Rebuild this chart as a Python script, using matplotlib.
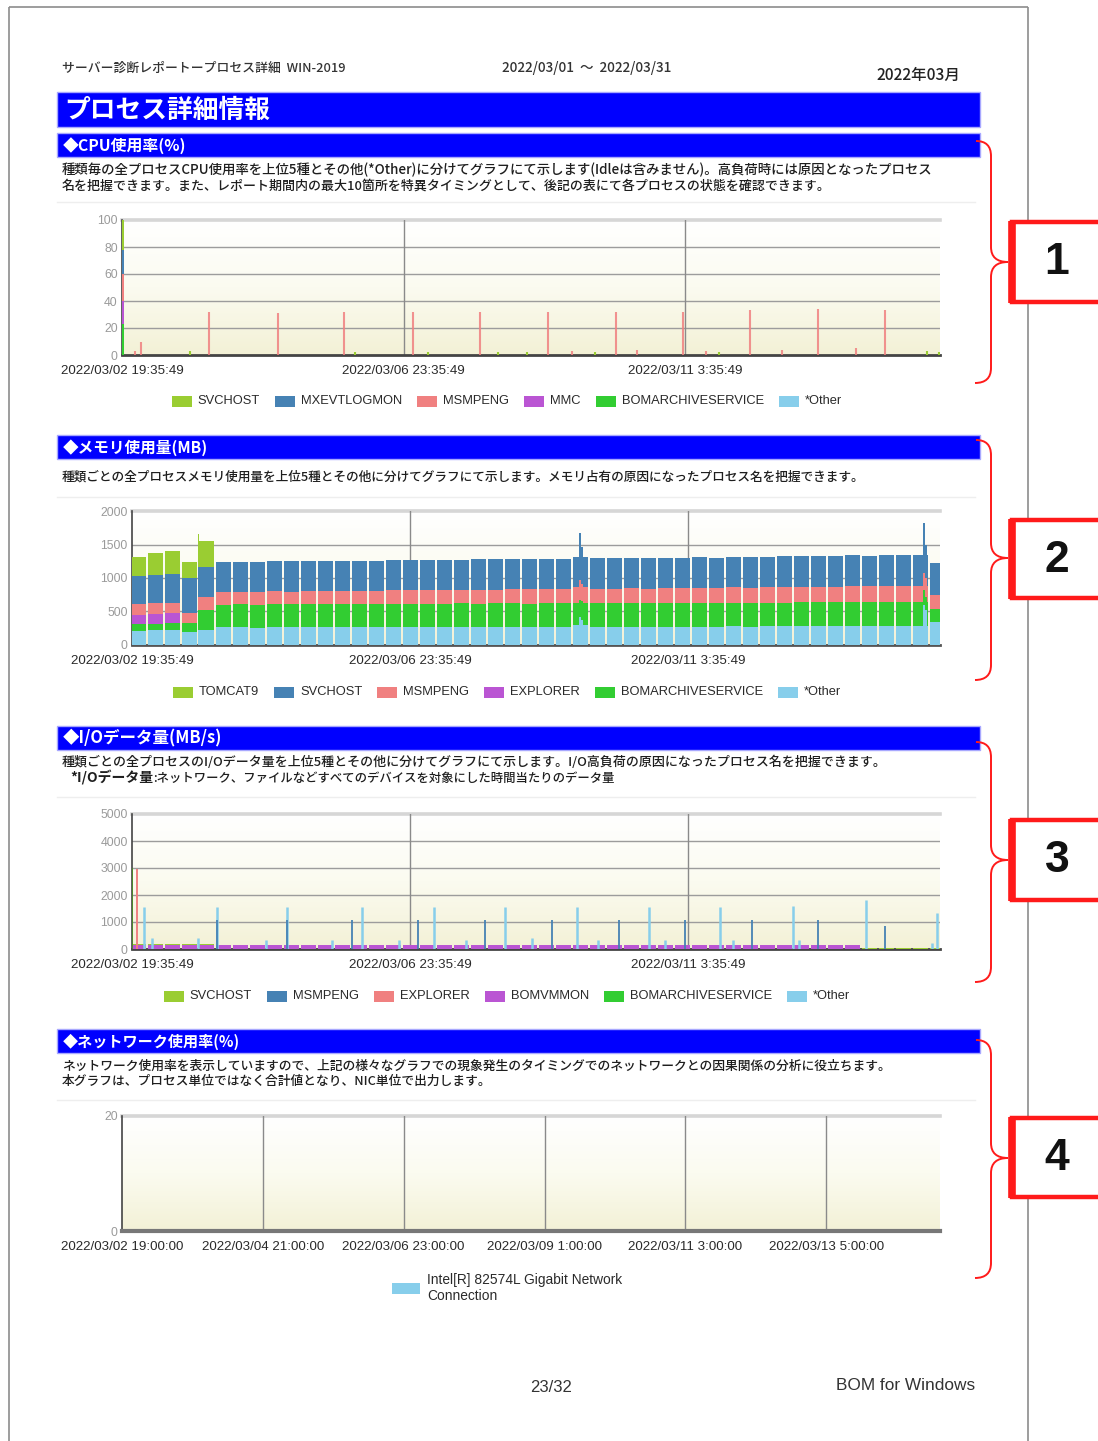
import numpy as np
import matplotlib
matplotlib.use("Agg")
import matplotlib.pyplot as plt
from matplotlib.patches import Rectangle, PathPatch
from matplotlib.path import Path
from matplotlib.colors import LinearSegmentedColormap

W, H = 1098, 1441
JP = ["Noto Sans CJK JP", "DejaVu Sans"]
LAT = ["Liberation Sans", "DejaVu Sans"]

# ---------------- page texts ----------------
header_left = "サーバー診断レポートープロセス詳細  WIN-2019"
header_period = "2022/03/01  ～  2022/03/31"
header_month = "2022年03月"
page_title = "プロセス詳細情報"
section_titles = ["◆CPU使用率(%)", "◆メモリ使用量(MB)", "◆I/Oデータ量(MB/s)", "◆ネットワーク使用率(%)"]
cpu_desc = ["種類毎の全プロセスCPU使用率を上位5種とその他(*Other)に分けてグラフにて示します(Idleは含みません)。高負荷時には原因となったプロセス",
            "名を把握できます。また、レポート期間内の最大10箇所を特異タイミングとして、後記の表にて各プロセスの状態を確認できます。"]
mem_desc = ["種類ごとの全プロセスメモリ使用量を上位5種とその他に分けてグラフにて示します。メモリ占有の原因になったプロセス名を把握できます。"]
io_desc = ["種類ごとの全プロセスのI/Oデータ量を上位5種とその他に分けてグラフにて示します。I/O高負荷の原因になったプロセス名を把握できます。",
           "*I/Oデータ量", ":ネットワーク、ファイルなどすべてのデバイスを対象にした時間当たりのデータ量"]
net_desc = ["ネットワーク使用率を表示していますので、上記の様々なグラフでの現象発生のタイミングでのネットワークとの因果関係の分析に役立ちます。",
            "本グラフは、プロセス単位ではなく合計値となり、NIC単位で出力します。"]
footer_page = "23/32"
footer_brand = "BOM for Windows"
callout_numbers = ["1", "2", "3", "4"]

# ---------------- time axes (hours from start) ----------------
span_hours = 290.4
proc_tick_hours = [0, 100, 200]
proc_tick_labels = ["2022/03/02 19:35:49", "2022/03/06 23:35:49", "2022/03/11 3:35:49"]
net_tick_hours = [0, 50, 100, 150, 200, 250]
net_tick_labels = ["2022/03/02 19:00:00", "2022/03/04 21:00:00", "2022/03/06 23:00:00",
                   "2022/03/09 1:00:00", "2022/03/11 3:00:00", "2022/03/13 5:00:00"]

# ---------------- CPU (%) ----------------
cpu_legend = ["SVCHOST", "MXEVTLOGMON", "MSMPENG", "MMC", "BOMARCHIVESERVICE", "*Other"]
cpu_start_bomarch = 23
cpu_start_mmc = 17
cpu_start_msmpeng = 20
cpu_start_mxevtlogmon = 18
cpu_start_svchost = 22
cpu_msmpeng_hours = [4.6, 6.8, 31.0, 55.4, 78.9, 103.4, 127.2, 151.4, 159.7, 175.2, 183.0,
                     199.3, 207.5, 222.9, 234.4, 247.1, 260.5, 270.9]
cpu_msmpeng_vals = [3, 10, 32, 31, 32, 32, 32, 32, 3, 32, 4, 32, 3, 33, 4, 34, 5, 33]
cpu_svchost_hours = [24.0, 82.8, 108.8, 133.6, 143.7, 168.0, 212.0, 285.8, 289.9]
cpu_svchost_vals = [3, 2, 2, 2, 2, 2, 2, 3, 2]

# ---------------- Memory (MB) : sample blocks separated by data gaps ----------------
mem_legend = ["TOMCAT9", "SVCHOST", "MSMPENG", "EXPLORER", "BOMARCHIVESERVICE", "*Other"]
mem_gap_hours = [5.3, 11.4, 17.5, 23.6, 29.7, 35.9, 42.0, 48.1, 54.2, 60.3,
                 66.4, 72.5, 78.6, 84.7, 90.8, 96.9, 103.1, 109.2, 115.3, 121.4,
                 127.5, 133.6, 139.7, 145.8, 151.9, 158.0, 164.2, 170.3, 176.4, 182.5,
                 188.6, 194.7, 200.8, 206.9, 213.0, 219.1, 225.3, 231.4, 237.5, 243.6,
                 249.7, 255.8, 261.9, 268.0, 274.1, 280.2, 286.3]
mem_tomcat = [290, 340, 355, 250, 375, 0, 0, 0, 0, 0,
              0, 0, 0, 0, 0, 0, 0, 0, 0, 0,
              0, 0, 0, 0, 0, 0, 0, 0, 0, 0,
              0, 0, 0, 0, 0, 0, 0, 0, 0, 0,
              0, 0, 0, 0, 0, 0, 0, 0]
mem_svchost = [420, 420, 430, 520, 450, 450, 445, 440, 448, 452,
               445, 450, 455, 448, 452, 455, 450, 452, 455, 450,
               455, 452, 450, 455, 452, 450, 460, 455, 450, 452,
               455, 450, 452, 455, 450, 452, 455, 450, 452, 455,
               450, 452, 455, 450, 452, 455, 455, 480]
mem_msmpeng = [160, 150, 150, 150, 195, 185, 188, 190, 186, 190,
               192, 190, 195, 193, 198, 200, 198, 202, 205, 203,
               208, 206, 210, 212, 215, 214, 230, 218, 220, 222,
               220, 224, 226, 225, 228, 230, 228, 232, 235, 233,
               236, 238, 240, 238, 242, 240, 242, 200]
mem_explorer = [140, 150, 150, 0, 0, 0, 0, 0, 0, 0,
                0, 0, 0, 0, 0, 0, 0, 0, 0, 0,
                0, 0, 0, 0, 0, 0, 0, 0, 0, 0,
                0, 0, 0, 0, 0, 0, 0, 0, 0, 0,
                0, 0, 0, 0, 0, 0, 0, 0]
mem_bomarch = [95, 100, 100, 125, 300, 340, 345, 342, 348, 345,
               350, 346, 348, 352, 348, 350, 352, 348, 350, 352,
               350, 348, 352, 350, 348, 350, 330, 350, 352, 348,
               350, 352, 350, 354, 352, 355, 352, 356, 354, 358,
               355, 357, 360, 358, 362, 360, 358, 200]
mem_other = [215, 220, 225, 200, 225, 262, 264, 260, 265, 262,
             266, 264, 262, 265, 263, 266, 264, 268, 265, 270,
             268, 272, 270, 268, 272, 270, 300, 272, 270, 274,
             272, 275, 273, 276, 274, 278, 276, 278, 280, 277,
             280, 278, 282, 280, 283, 282, 285, 340]
mem_spike_hours = [23.9, 161.0, 161.8, 284.7, 285.3]
mem_spike_tomcat = [480, 0, 0, 0, 0]
mem_spike_svchost = [450, 700, 560, 740, 500]
mem_spike_msmpeng = [195, 300, 250, 260, 280]
mem_spike_explorer = [0, 0, 0, 0, 0]
mem_spike_bomarch = [300, 250, 280, 220, 200]
mem_spike_other = [225, 420, 380, 600, 520]

# ---------------- I/O (MB/s) ----------------
io_legend = ["SVCHOST", "MSMPENG", "EXPLORER", "BOMVMMON", "BOMARCHIVESERVICE", "*Other"]
io_bomvmmon = [150, 150, 140, 140, 140, 130, 130, 130, 130, 130,
               130, 130, 130, 130, 130, 130, 130, 130, 130, 130,
               130, 130, 130, 130, 130, 130, 130, 130, 130, 130,
               130, 130, 130, 130, 130, 130, 130, 130, 130, 130,
               130, 130, 130, 0, 0, 0, 0, 0]
io_svchost_base = [35, 35, 35, 35, 35, 35, 35, 35, 35, 35,
                   35, 35, 35, 35, 35, 35, 35, 35, 35, 35,
                   35, 35, 35, 35, 35, 35, 35, 35, 35, 35,
                   35, 35, 35, 35, 35, 35, 35, 35, 35, 35,
                   35, 35, 35, 35, 35, 35, 35, 35]
io_svchost_start = 3000
io_explorer_hours = [1.9]
io_explorer_vals = [2950]
io_other_hours = [4.3, 7.1, 23.8, 30.6, 48.1, 55.7, 72.0, 82.7, 95.9, 108.4, 119.9, 133.9,
                  143.8, 160.0, 167.6, 185.7, 191.6, 211.4, 215.9, 237.4, 239.8, 263.7, 287.7, 289.5]
io_other_vals = [1540, 410, 400, 1540, 350, 1540, 350, 1540, 350, 1540, 350, 1540,
                 400, 1540, 350, 1540, 350, 1540, 350, 1600, 350, 1820, 230, 1330]
io_msmpeng_hours = [30.6, 55.7, 79.1, 102.8, 126.8, 150.9, 174.9, 198.8, 222.8, 246.7, 270.6]
io_msmpeng_vals = [1080, 1080, 1080, 1080, 1080, 1080, 1080, 1080, 1080, 1080, 860]

# ---------------- Network (%) ----------------
net_legend = ["Intel[R] 82574L Gigabit Network\nConnection"]

# ---------------- styles ----------------
C_LIME, C_STEEL, C_SALMON = "#9acd32", "#4682b4", "#f08080"
C_PURPLE, C_GREEN, C_SKY = "#ba55d3", "#32cd32", "#87ceeb"
PALETTE = [C_LIME, C_STEEL, C_SALMON, C_PURPLE, C_GREEN, C_SKY]
BLUE = "#0000ff"
RED = "#ff1a1a"
TXT = "#1e1e1e"

fig = plt.figure(figsize=(W / 100, H / 100), dpi=100)
fig.patch.set_facecolor("white")
R = fig.canvas.get_renderer()


def fx(x):
    return x / W


def fy(y):
    return 1 - y / H


bg = fig.add_axes([0, 0, 1, 1])
bg.set_xlim(0, W); bg.set_ylim(H, 0); bg.axis("off"); bg.set_zorder(0)
fg = fig.add_axes([0, 0, 1, 1])
fg.set_xlim(0, W); fg.set_ylim(H, 0); fg.axis("off"); fg.set_zorder(30)


def put(x, y, s, size, family=JP, width=None, ha="left", va="center", **kw):
    t = fig.text(fx(x), fy(y), s, fontsize=size, family=family, ha=ha, va=va, **kw)
    if width:
        w = t.get_window_extent(R).width
        if w > 0:
            t.set_fontsize(size * width / w)
    return t


# page border
for xs, ys in [([8.5, 8.5], [6.5, H]), ([8.5, 1027.5], [6.5, 6.5]), ([1027.5, 1027.5], [6.5, H])]:
    bg.plot(xs, ys, color="#8c8c8c", lw=1.2, solid_capstyle="butt")

# header
put(62, 68, header_left, 8, width=283, color="#333333", weight="medium")
put(502, 68, header_period, 8, width=169, color="#333333", weight="medium")
put(876, 75, header_month, 10, width=84, color="#222222", weight="medium")

# title bar
bg.add_patch(Rectangle((57, 92), 923, 35, fc=BLUE, ec="#a8a8ff", lw=1))
put(64, 110, page_title, 18, width=206, color="white", weight="bold")

# section bars
sec_bars = [133, 435, 726, 1029]
sec_widths = [124, 146, 160, 178]
for yb, title, tw in zip(sec_bars, section_titles, sec_widths):
    bg.add_patch(Rectangle((57, yb), 923, 24, fc=BLUE, ec="#a8a8ff", lw=1))
    put(63, yb + 12.5, title, 10.5, width=tw, color="white", weight="bold")

# descriptions
put(62, 170, cpu_desc[0], 9, width=873, color=TXT, weight="medium")
put(62, 186, cpu_desc[1], 9, width=767, color=TXT, weight="medium")
put(62, 477, mem_desc[0], 9, width=806, color=TXT, weight="medium")
put(62, 762, io_desc[0], 9, width=823, color=TXT, weight="medium")
tb = put(70, 778, io_desc[1], 9, width=83, color=TXT, weight="bold")
bx = tb.get_window_extent(R).x1
put(bx, 778, io_desc[2], 9, width=613 - bx, color=TXT, weight="medium")
put(62, 1066, net_desc[0], 9, width=831, color=TXT, weight="medium")
put(62, 1081, net_desc[1], 9, width=428, color=TXT, weight="medium")
for ysep in [202, 497, 797, 1100]:
    bg.plot([57, 975], [ysep, ysep], color="#eeeeee", lw=1)

# chart background gradient
GRAD = np.linspace(1, 0, 256).reshape(-1, 1)
BGCMAP = LinearSegmentedColormap.from_list("bgc", ["#f3f1d6", "#fbfbf0", "#ffffff"])


def chart(box, ymax, yticks, tick_hours, tick_labels, bottom_color="#444444"):
    x0, y0, x1, y1 = box
    ax = fig.add_axes([fx(x0), fy(y1), (x1 - x0) / W, (y1 - y0) / H])
    ax.set_zorder(5)
    ax.imshow(GRAD, extent=(0, 1, 0, 1), transform=ax.transAxes, aspect="auto",
              cmap=BGCMAP, zorder=0, interpolation="bilinear")
    ax.set_xlim(0, span_hours)
    ax.set_ylim(0, ymax)
    for v in yticks[1:-1]:
        ax.axhline(v, color="#9c9c9c", lw=1.0, zorder=1)
    ax.axhline(ymax, color="#d6d6d6", lw=2.6, zorder=1, clip_on=False)
    for h in tick_hours[1:]:
        ax.axvline(h, color="#8a8a8a", lw=1.0, zorder=1)
    for s in ["top", "right"]:
        ax.spines[s].set_visible(False)
    ax.spines["left"].set_color("#444444"); ax.spines["left"].set_linewidth(1.2)
    ax.spines["bottom"].set_color(bottom_color); ax.spines["bottom"].set_linewidth(2.0)
    ax.set_yticks(yticks)
    ax.set_yticklabels([str(v) for v in yticks], color="#9a9a9a", fontsize=8.8, family=LAT)
    ax.set_xticks(tick_hours)
    ax.set_xticklabels(tick_labels, fontsize=9.6, color="#2a2a2a", family=LAT)
    ax.tick_params(axis="y", length=0, pad=3)
    ax.tick_params(axis="x", length=0, pad=7)
    return ax


def legend_row(y, labels, colors, cx=507):
    texts, widths = [], []
    for lab in labels:
        t = fig.text(0, fy(y), lab, fontsize=9.3, family=LAT, color="#2a2a2a", va="center")
        texts.append(t)
        widths.append(t.get_window_extent(R).width)
    total = sum(26 + w for w in widths) + 15 * (len(labels) - 1)
    x = cx - total / 2
    for t, w, c in zip(texts, widths, colors):
        bg.add_patch(Rectangle((x, y - 5.5), 20, 11, fc=c, ec="none"))
        t.set_x(fx(x + 26))
        x += 26 + w + 15


# ---------- CPU chart ----------
ax1 = chart((122, 220, 940, 355), 100, [0, 20, 40, 60, 80, 100], proc_tick_hours, proc_tick_labels)
start_stack = [(cpu_start_bomarch, C_GREEN), (cpu_start_mmc, C_PURPLE), (cpu_start_msmpeng, C_SALMON),
               (cpu_start_mxevtlogmon, C_STEEL), (cpu_start_svchost, C_LIME)]
b = 0
for v, c in start_stack:
    ax1.bar(0, v, width=0.6, bottom=b, align="edge", color=c, zorder=3)
    b += v
ax1.vlines(cpu_msmpeng_hours, 0, cpu_msmpeng_vals, color=C_SALMON, lw=1.5, alpha=0.85, zorder=3)
ax1.vlines(cpu_svchost_hours, 0, cpu_svchost_vals, color=C_LIME, lw=1.5, zorder=3)
legend_row(401, cpu_legend, PALETTE)

# ---------- Memory chart ----------
ax2 = chart((132, 511, 940, 645), 2000, [0, 500, 1000, 1500, 2000], proc_tick_hours, proc_tick_labels,
            bottom_color="#555555")
starts = [0] + mem_gap_hours
ends = mem_gap_hours + [span_hours]
nb = len(starts)
lefts = [s + (0.35 if i > 0 else 0) for i, s in enumerate(starts)]
widths = [(e - (0.35 if i < nb - 1 else 0)) - l for i, (l, e) in enumerate(zip(lefts, ends))]
mem_stack = [(mem_other, C_SKY), (mem_bomarch, C_GREEN), (mem_explorer, C_PURPLE),
             (mem_msmpeng, C_SALMON), (mem_svchost, C_STEEL), (mem_tomcat, C_LIME)]
bottom = np.zeros(nb)
for vals, c in mem_stack:
    v = np.array(vals, dtype=float)
    ax2.bar(lefts, v, width=widths, bottom=bottom, align="edge", color=c, lw=0, zorder=3)
    bottom += v
spike_stack = [(mem_spike_other, C_SKY), (mem_spike_bomarch, C_GREEN), (mem_spike_explorer, C_PURPLE),
               (mem_spike_msmpeng, C_SALMON), (mem_spike_svchost, C_STEEL), (mem_spike_tomcat, C_LIME)]
sb = np.zeros(len(mem_spike_hours))
for vals, c in spike_stack:
    v = np.array(vals, dtype=float)
    ax2.bar(mem_spike_hours, v, width=0.6, bottom=sb, color=c, lw=0, zorder=4)
    sb += v
legend_row(692, mem_legend, PALETTE)

# ---------- I/O chart ----------
ax3 = chart((132, 814, 940, 949), 5000, [0, 1000, 2000, 3000, 4000, 5000], proc_tick_hours, proc_tick_labels)
pv = np.array(io_bomvmmon, dtype=float)
ax3.bar(lefts, pv, width=widths, align="edge", color=C_PURPLE, lw=0, zorder=3)
ax3.bar(lefts, io_svchost_base, width=widths, bottom=pv, align="edge", color=C_LIME, lw=0, zorder=3)
ax3.vlines([0.15], 0, [io_svchost_start], color="#4f8a2a", lw=1.4, zorder=4)
ax3.vlines(io_explorer_hours, 0, io_explorer_vals, color=C_SALMON, lw=1.4, zorder=4)
ax3.vlines(io_other_hours, 0, io_other_vals, color=C_SKY, lw=1.8, zorder=4)
ax3.vlines(io_msmpeng_hours, 0, io_msmpeng_vals, color=C_STEEL, lw=1.3, zorder=5)
legend_row(996, io_legend, PALETTE)

# ---------- Network chart ----------
ax4 = chart((122, 1116, 940, 1231), 20, [0, 20], net_tick_hours, net_tick_labels, bottom_color="#777777")
ax4.spines["bottom"].set_linewidth(3)
bg.add_patch(Rectangle((392, 1283), 28, 11, fc=C_SKY, ec="none"))
put(427, 1288, net_legend[0], 9.9, family=LAT, color="#2a2a2a", linespacing=1.2)

# footer
put(551, 1387, footer_page, 10, family=LAT, width=42, ha="center", color="#333333")
put(836, 1385, footer_brand, 12, family=LAT, width=139, color="#333333")

# ---------- callouts ----------
brace_specs = [(141, 383, 262), (440, 680, 558), (742, 982, 860), (1040, 1278, 1158)]
box_specs = [(222, 302), (520, 598), (820, 900), (1118, 1197)]
xb, xp = 991, 1008
for (yt, ybm, ym), (bt, bbx), num in zip(brace_specs, box_specs, callout_numbers):
    verts = [(976, yt), (xb, yt), (xb, yt + 15),
             (xb, ym - 15),
             (xb, ym), (xp, ym),
             (xb, ym), (xb, ym + 15),
             (xb, ybm - 15),
             (xb, ybm), (975, ybm)]
    codes = [Path.MOVETO, Path.CURVE3, Path.CURVE3,
             Path.LINETO,
             Path.CURVE3, Path.CURVE3,
             Path.CURVE3, Path.CURVE3,
             Path.LINETO,
             Path.CURVE3, Path.CURVE3]
    fg.add_patch(PathPatch(Path(verts, codes), fc="none", ec=RED, lw=1.4))
    fg.add_patch(Rectangle((1012, bt), 120, bbx - bt, fc="white", ec=RED, lw=3.2, clip_on=False))
    fg.plot([1012, 1012], [bt - 1, bbx + 1], color=RED, lw=5.5, solid_capstyle="butt")
    fg.text(1057, (bt + bbx) / 2 + 1, num, fontsize=32, weight="bold", family=LAT,
            ha="center", va="center", color="#111111")

fig.savefig("out.png", dpi=100, facecolor="white")
